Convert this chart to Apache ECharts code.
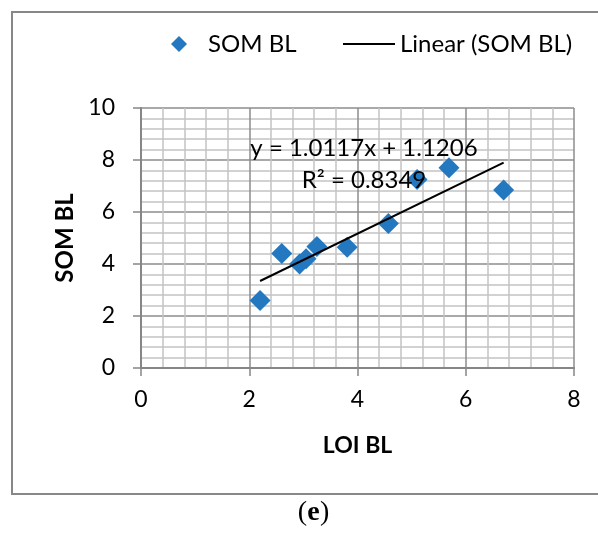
<!DOCTYPE html>
<html>
<head>
<meta charset="utf-8">
<script src="https://cdn.jsdelivr.net/npm/echarts@6/dist/echarts.min.js"></script>
<style>
html,body{margin:0;padding:0;background:#fff;}
#chart{width:598px;height:534px;}
</style>
</head>
<body>
<div id="chart"></div>
<script>
// Data
var loiBL = [2.2, 2.6, 2.93, 3.05, 3.25, 3.81, 4.57, 5.1, 5.69, 6.7];
var somBL = [2.6, 4.4, 4.0, 4.2, 4.67, 4.64, 5.56, 7.25, 7.7, 6.85];
var slope = 1.0117;
var intercept = 1.1206;
var r2 = 0.8349;
var xTicks = [0, 2, 4, 6, 8];
var yTicks = [0, 2, 4, 6, 8, 10];

var points = loiBL.map(function (x, i) { return [x, somBL[i]]; });
var xMin = Math.min.apply(null, loiBL), xMax = Math.max.apply(null, loiBL);
var trend = [[xMin, slope * xMin + intercept], [xMax, slope * xMax + intercept]];

var FONT = 'Lato';
var SERIF = 'Liberation Serif';
var chart = echarts.init(document.getElementById('chart'), null, {renderer: 'canvas'});
chart.setOption({
  animation: false,
  backgroundColor: '#fff',
  graphic: [
    {type: 'rect', shape: {x: 12, y: 12, width: 600, height: 482},
     style: {fill: 'none', stroke: '#888888', lineWidth: 2}, silent: true, z: -1},
    {type: 'text', z: 10, x: 364, y: 148,
     style: {text: 'y = ' + slope + 'x + ' + intercept, align: 'center', verticalAlign: 'middle',
             fontSize: 24, fontFamily: FONT, fill: '#000'}},
    {type: 'text', z: 10, x: 364, y: 180,
     style: {text: 'R² = ' + r2, align: 'center', verticalAlign: 'middle',
             fontSize: 24, fontFamily: FONT, fill: '#000'}},
    {type: 'text', z: 10, x: 307, y: 513,
     style: {text: '(', align: 'right', verticalAlign: 'middle',
             fontSize: 28, fontFamily: SERIF, fill: '#000'}},
    {type: 'text', z: 10, x: 313.5, y: 513,
     style: {text: 'e', align: 'center', verticalAlign: 'middle',
             fontSize: 28, fontFamily: SERIF, fontWeight: 'bold', fill: '#000'}},
    {type: 'text', z: 10, x: 320, y: 513,
     style: {text: ')', align: 'left', verticalAlign: 'middle',
             fontSize: 28, fontFamily: SERIF, fill: '#000'}}
  ],
  legend: [
    {data: ['SOM BL'], left: 166, top: 27, icon: 'diamond', itemWidth: 16, itemHeight: 16,
     textStyle: {fontFamily: FONT, fontSize: 24, color: '#000', padding: [0, 0, 0, 16]}},
    {data: [{name: 'Linear (SOM BL)', icon: 'rect'}], left: 338, top: 27, itemWidth: 52, itemHeight: 2,
     textStyle: {fontFamily: FONT, fontSize: 24, color: '#000', padding: [0, 0, 0, 0]}}
  ],
  grid: {left: 141, right: 24, top: 108, bottom: 166},
  xAxis: {
    type: 'value', min: 0, max: 8, interval: 2,
    name: 'LOI BL', nameLocation: 'middle', nameGap: 66,
    nameTextStyle: {fontFamily: FONT, fontSize: 23, fontWeight: 'bold', color: '#000'},
    axisLine: {show: true, onZero: false, lineStyle: {color: '#868686', width: 2}},
    axisTick: {show: true, inside: false, length: 8, lineStyle: {color: '#868686', width: 1.5}},
    axisLabel: {fontFamily: FONT, fontSize: 23, color: '#000', margin: 20},
    splitLine: {show: true, lineStyle: {color: '#8c8c8c', width: 1.5}},
    minorTick: {show: false, splitNumber: 5},
    minorSplitLine: {show: true, lineStyle: {color: '#c4c4c4', width: 1.5}}
  },
  yAxis: {
    type: 'value', min: 0, max: 10, interval: 2,
    name: 'SOM BL', nameLocation: 'middle', nameGap: 64, nameRotate: 90,
    nameTextStyle: {fontFamily: FONT, fontSize: 24, fontWeight: 'bold', color: '#000'},
    axisLine: {show: true, lineStyle: {color: '#868686', width: 2}},
    axisTick: {show: true, inside: false, length: 8, lineStyle: {color: '#868686', width: 1.5}},
    axisLabel: {fontFamily: FONT, fontSize: 23, color: '#000', margin: 26},
    splitLine: {show: true, lineStyle: {color: '#8c8c8c', width: 1.5}},
    minorTick: {show: false, splitNumber: 5},
    minorSplitLine: {show: true, lineStyle: {color: '#c4c4c4', width: 1.5}}
  },
  series: [
    {name: 'SOM BL', type: 'scatter', data: points, symbol: 'diamond', symbolSize: 21,
     itemStyle: {color: '#2378C0', opacity: 1}, z: 3},
    {name: 'Linear (SOM BL)', type: 'line', data: trend, showSymbol: false, symbol: 'none',
     lineStyle: {color: '#000', width: 2}, itemStyle: {color: '#000'}, z: 4}
  ]
});
</script>
</body>
</html>
